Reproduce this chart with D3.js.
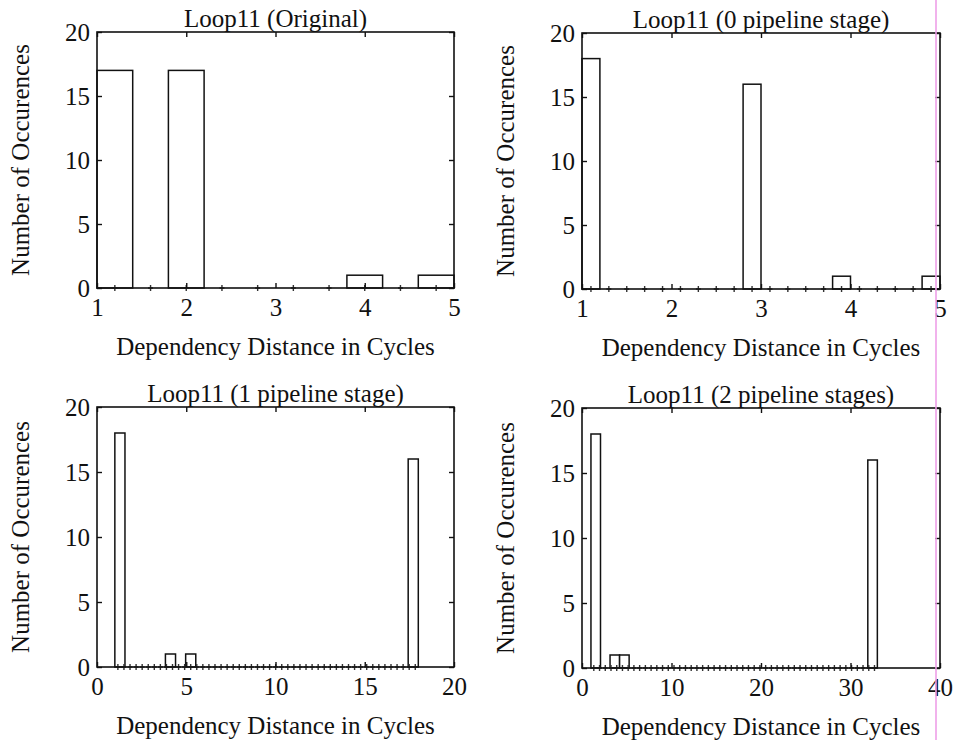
<!DOCTYPE html>
<html>
<head>
<meta charset="utf-8">
<script src="https://cdn.jsdelivr.net/npm/d3@7"></script>
<style>
  body { margin: 0; background: #fff; }
</style>
</head>
<body>
<div id="drawing"></div>
<script>
const width = 954;
const height = 740;
const serif = "'Liberation Serif', 'Times New Roman', Times, 'DejaVu Serif', serif";
const fontSize = "25px";

// chart data, one entry per panel
const titles = ["Loop11 (Original)", "Loop11 (0 pipeline stage)", "Loop11 (1 pipeline stage)", "Loop11 (2 pipeline stages)"];
const xDomains = [[1, 5], [1, 5], [0, 20], [0, 40]];
const xTicks = [[1, 2, 3, 4, 5], [1, 2, 3, 4, 5], [0, 5, 10, 15, 20], [0, 10, 20, 30, 40]];
const yTicks = [0, 5, 10, 15, 20];
// min / max dependency distance the histogram bins span
const dataRanges = [[1, 5], [1, 5], [1, 18], [1, 33]];
// counts per bin
const counts0 = [17, 0, 17, 0, 0, 0, 0, 1, 0, 1];
const counts1 = [18, 0, 0, 0, 0, 0, 0, 0, 0, 16, 0, 0, 0, 0, 1, 0, 0, 0, 0, 1];
const counts2 = [18, 0, 0, 0, 0, 1, 0, 1, 0, 0, 0, 0, 0, 0, 0, 0, 0, 0, 0, 0, 0, 0, 0, 0, 0, 0, 0, 0, 0, 16];
const counts3 = [18, 0, 1, 1, 0, 0, 0, 0, 0, 0, 0, 0, 0, 0, 0, 0, 0, 0, 0, 0, 0, 0, 0, 0, 0, 0, 0, 0, 0, 16];
const allCounts = [counts0, counts1, counts2, counts3];
// number of baseline markers (bin centres of the finer grid)
const markerBins = [10, 20, 50, 50];

const xLabel = "Dependency Distance in Cycles";
const yLabel = "Number of Occurences";

// layout of each plot box
const boxes = [
  {left: 97, top: 32, w: 357, h: 256},
  {left: 582, top: 33, w: 358, h: 256},
  {left: 97, top: 407, w: 357, h: 260},
  {left: 582, top: 408, w: 358, h: 260}
];

const svg = d3.select("#drawing").append("svg")
  .attr("width", width)
  .attr("height", height)
  .style("background", "#fff");

function drawPanel(i) {
  const b = boxes[i];
  const g = svg.append("g").attr("transform", `translate(${b.left},${b.top})`);

  const x = d3.scaleLinear().domain(xDomains[i]).range([0, b.w]);
  const y = d3.scaleLinear().domain([0, 20]).range([b.h, 0]);

  const counts = allCounts[i];
  const [lo, hi] = dataRanges[i];
  const bw = (hi - lo) / counts.length;
  const bins = counts.map((c, k) => ({x0: lo + k * bw, x1: lo + (k + 1) * bw, n: c}));

  // bars
  g.selectAll(".bar")
    .data(bins.filter(d => d.n > 0))
    .enter()
    .append("rect")
      .attr("class", "bar")
      .attr("x", d => x(d.x0))
      .attr("y", d => y(d.n))
      .attr("width", d => x(d.x1) - x(d.x0))
      .attr("height", d => y(0) - y(d.n))
      .style("fill", "#fff")
      .style("stroke", "#111")
      .style("stroke-width", 1.5);

  // baseline markers
  const mw = (hi - lo) / markerBins[i];
  const marks = d3.range(markerBins[i]).map(k => lo + (k + 0.5) * mw);
  g.selectAll(".mark")
    .data(marks)
    .enter()
    .append("path")
      .attr("class", "mark")
      .attr("d", d => `M${x(d) - 2.5},${y(0)}h5M${x(d)},${y(0) - 3}v6`)
      .style("stroke", "#333")
      .style("stroke-width", 1.4);

  // axes, ticks pointing inward on all sides
  const tl = 5;
  g.append("g")
    .attr("transform", `translate(0,${b.h})`)
    .call(d3.axisBottom(x).tickValues(xTicks[i]).tickSize(-tl).tickPadding(10).tickFormat(d3.format("d")));
  g.append("g")
    .call(d3.axisTop(x).tickValues(xTicks[i]).tickSize(-tl).tickFormat(""));
  g.append("g")
    .call(d3.axisLeft(y).tickValues(yTicks).tickSize(-tl).tickPadding(7));
  g.append("g")
    .attr("transform", `translate(${b.w},0)`)
    .call(d3.axisRight(y).tickValues(yTicks).tickSize(-tl).tickFormat(""));

  g.selectAll(".domain").remove();
  g.selectAll(".tick line").style("stroke", "#111").style("stroke-width", 1.4);
  g.selectAll(".tick text")
    .style("font-family", serif)
    .style("font-size", fontSize)
    .style("fill", "#111");

  // box
  g.append("rect")
    .attr("width", b.w)
    .attr("height", b.h)
    .style("fill", "none")
    .style("stroke", "#111")
    .style("stroke-width", 1.6);

  // title
  g.append("text")
    .attr("x", b.w / 2)
    .attr("y", -5)
    .attr("text-anchor", "middle")
    .style("font-family", serif)
    .style("font-size", fontSize)
    .style("fill", "#111")
    .text(titles[i]);

  // x label
  g.append("text")
    .attr("x", b.w / 2)
    .attr("y", b.h + 67)
    .attr("text-anchor", "middle")
    .style("font-family", serif)
    .style("font-size", fontSize)
    .style("fill", "#111")
    .text(xLabel);

  // y label
  g.append("text")
    .attr("transform", `translate(-68,${b.h / 2}) rotate(-90)`)
    .attr("text-anchor", "middle")
    .style("font-family", serif)
    .style("font-size", fontSize)
    .style("fill", "#111")
    .text(yLabel);
}

d3.range(4).forEach(drawPanel);

// scan artefact: thin magenta stripe near the right edge
svg.append("line")
  .attr("x1", 936).attr("x2", 936)
  .attr("y1", 0).attr("y2", height)
  .style("stroke", "#ee9fe8")
  .style("stroke-width", 1.6);
</script>
</body>
</html>
